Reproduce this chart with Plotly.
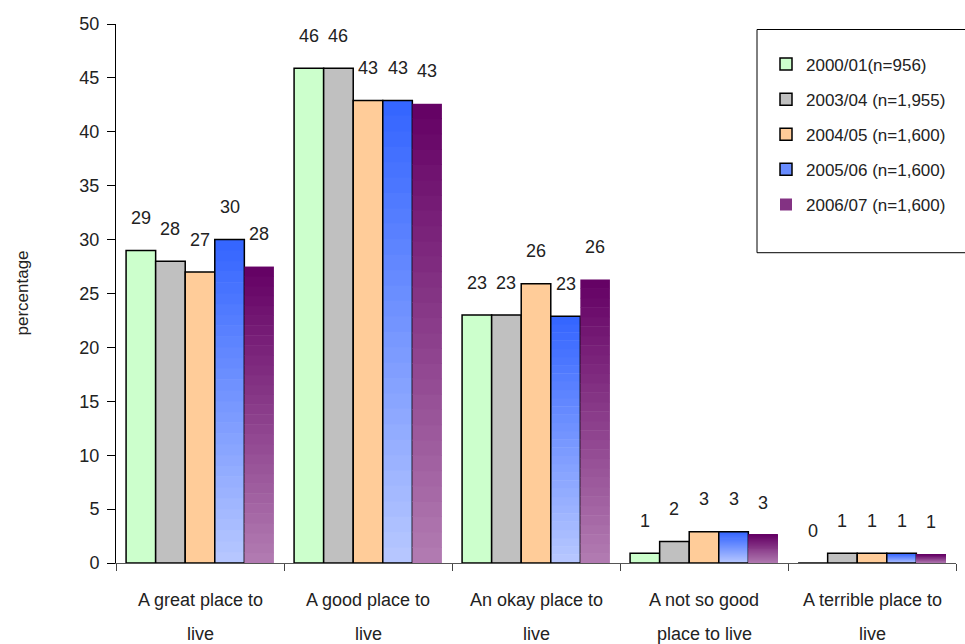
import plotly.graph_objects as go

categories = ["A great place to<br>live", "A good place to<br>live", "An okay place to<br>live",
              "A not so good<br>place to live", "A terrible place to<br>live"]
series_names = ["2000/01(n=956)", "2003/04 (n=1,955)", "2004/05 (n=1,600)",
                "2005/06 (n=1,600)", "2006/07 (n=1,600)"]
v_2000 = [29.0, 45.9, 23.0, 0.9, 0.0]
v_2003 = [28.0, 45.9, 23.0, 2.0, 0.9]
v_2004 = [27.0, 42.9, 25.9, 2.9, 0.9]
v_2005 = [30.0, 42.9, 22.9, 2.9, 0.9]
v_2006 = [27.5, 42.6, 26.3, 2.6, 0.8]
y_ticks = [0, 5, 10, 15, 20, 25, 30, 35, 40, 45, 50]

all_values = [v_2000, v_2003, v_2004, v_2005, v_2006]
# style: (solid color or (bottom, top) gradient, outline?)
styles = [
    ("#CCFFCC", True),
    ("#C0C0C0", True),
    ("#FFCC99", True),
    (((184, 200, 255), (51, 100, 255)), True),
    (((178, 124, 178), (100, 0, 100)), False),
]

FONT = "Liberation Sans, Arial, sans-serif"
BARGAP = 0.12
NSEG = 30

fig = go.Figure()
x_idx = list(range(len(categories)))


def lerp(c0, c1, t):
    return "rgb(%d,%d,%d)" % tuple(round(a + (b - a) * t) for a, b in zip(c0, c1))


for k, (vals, name, (col, outline)) in enumerate(zip(all_values, series_names, styles)):
    og = "g%d" % k
    if isinstance(col, tuple):
        bottom, top = col
        for i in range(NSEG):
            seg_h = [v / NSEG * (1.0 if i == NSEG - 1 else 1.05) for v in vals]
            fig.add_trace(go.Bar(
                x=x_idx, y=seg_h, base=[v * i / NSEG for v in vals],
                offsetgroup=og, marker=dict(color=lerp(bottom, top, (i + 0.5) / NSEG), line=dict(width=0)),
                showlegend=False, hoverinfo="skip"))
        fig.add_trace(go.Bar(
            x=x_idx, y=vals, offsetgroup=og, name=name, legendgroup=og,
            marker=dict(color="rgba(0,0,0,0)",
                        line=dict(color="black", width=1.5 if outline else 0)),
            showlegend=False, hoverinfo="skip"))
        fig.add_trace(go.Bar(
            x=[None], y=[None], name=name, legendgroup=og, offsetgroup=og,
            marker=dict(color=lerp(bottom, top, 0.6),
                        line=dict(color="black", width=1.5 if outline else 0)),
            showlegend=True))
    else:
        fig.add_trace(go.Bar(
            x=x_idx, y=vals, offsetgroup=og, name=name, legendgroup=og,
            marker=dict(color=col, line=dict(color="black", width=1.5)),
            showlegend=True))

# data labels
nser = len(all_values)
bw = (1 - BARGAP) / nser
for k, vals in enumerate(all_values):
    for j, v in enumerate(vals):
        fig.add_annotation(
            x=j + (k - (nser - 1) / 2) * bw, y=v + 3.0,
            text=str(int(v + 0.5)), showarrow=False,
            font=dict(family=FONT, size=18, color="#222"),
            xref="x", yref="y")

# category labels (two lines each)
for j, cat in enumerate(categories):
    lines = cat.split("<br>")
    for li, line in enumerate(lines):
        fig.add_annotation(
            x=j, y=0, xref="x", yref="paper", yanchor="middle",
            yshift=-37 - 34 * li, text=line, showarrow=False,
            font=dict(family=FONT, size=18, color="#222"))

# y axis title
fig.add_annotation(x=0, y=0.5, xref="paper", yref="paper", xshift=-94, xanchor="center",
                   yanchor="middle", text="percentage", textangle=-90, showarrow=False,
                   font=dict(family=FONT, size=17, color="#222"))

# legend box
fig.add_shape(type="rect", xref="paper", yref="paper",
              x0=(757 - 116) / 840, x1=1.05, y0=(563 - 253) / 538.5, y1=(563 - 30) / 538.5,
              line=dict(color="black", width=1), fillcolor="white", layer="below")

fig.update_layout(
    width=965, height=644,
    margin=dict(l=116, r=9, t=24, b=81, autoexpand=False),
    plot_bgcolor="white", paper_bgcolor="white",
    barmode="group", bargap=BARGAP, bargroupgap=0,
    showlegend=True,
    legend=dict(x=(766 - 116) / 840, y=(563 - 47) / 538.5, xanchor="left", yanchor="top",
                bgcolor="rgba(0,0,0,0)", borderwidth=0, tracegroupgap=10,
                font=dict(family=FONT, size=17, color="#222"), itemwidth=30),
    xaxis=dict(range=[-0.5, len(categories) - 0.5], tickmode="array",
               tickvals=[j + 0.5 for j in range(-1, len(categories))], ticktext=[""] * (len(categories) + 1),
               ticks="outside", ticklen=7, tickcolor="#444", showline=True, linecolor="#555",
               linewidth=1, showgrid=False, zeroline=False, showticklabels=False),
    yaxis=dict(range=[0, 50], tickvals=y_ticks, ticks="outside", ticklen=8, tickcolor="black",
               showline=True, linecolor="black", linewidth=1, showgrid=False, zeroline=False,
               tickfont=dict(family=FONT, size=18, color="#222"), ticklabelstandoff=4),
)

fig.write_html("out.html", config={"displayModeBar": False},
               post_script="document.body.style.margin='0';document.body.style.overflow='hidden';")
